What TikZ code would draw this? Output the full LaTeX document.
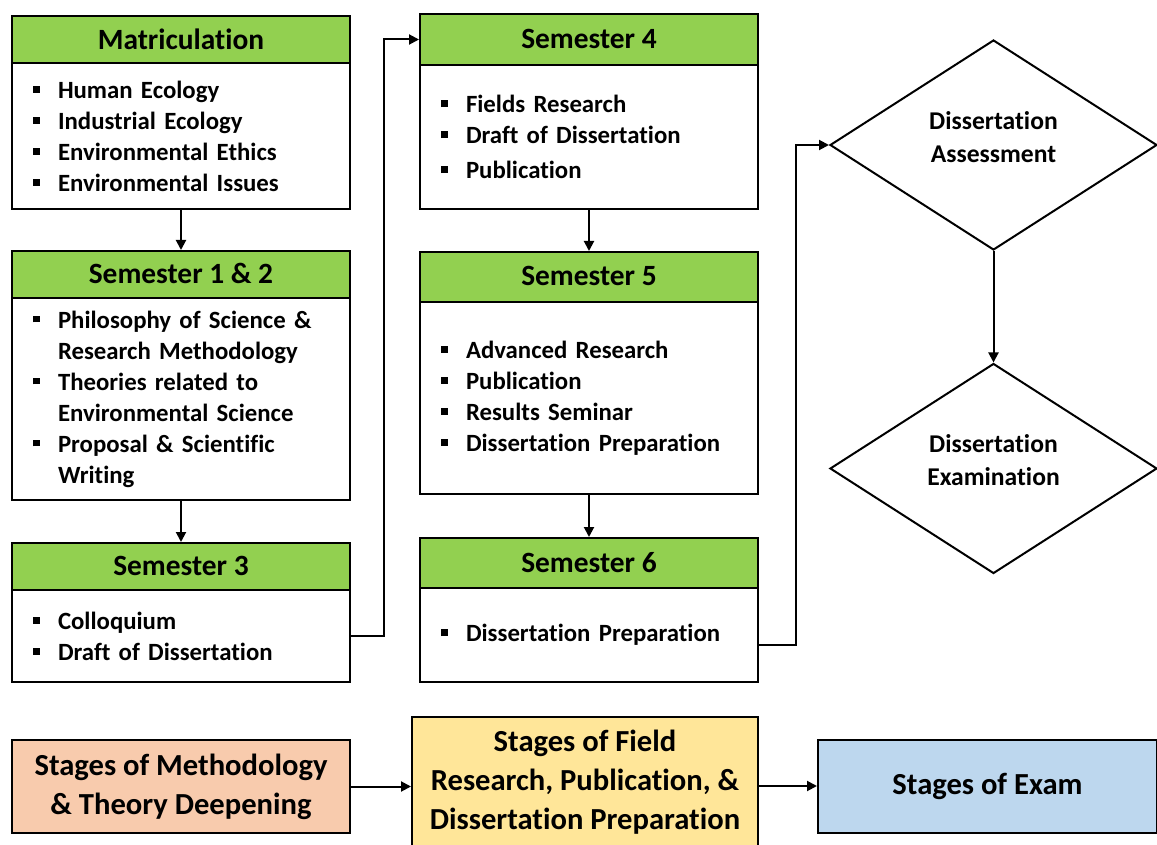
\documentclass[tikz,border=0pt]{standalone}
\usepackage{fontspec}
\setmainfont{Carlito}[Ligatures=NoCommon,Contextuals=NoAlternate]
\usetikzlibrary{shapes.geometric,arrows.meta}
\definecolor{hdrgreen}{HTML}{92D050}
\definecolor{stagepeach}{HTML}{F8CBAD}
\definecolor{stageyellow}{HTML}{FFE699}
\definecolor{stageblue}{HTML}{BDD7EE}
\newcommand{\sqb}{\makebox[12.5pt][l]{\raisebox{2.8pt}{\rule{3.4pt}{3.4pt}}}}
\newcommand{\cnt}{\hspace*{12.5pt}}
\tikzset{
  hdr/.style={draw, line width=1pt, fill=hdrgreen, minimum width=169pt, minimum height=23.5pt, inner sep=0pt, text depth=1pt, font=\bfseries\fontsize{14.7}{17}\selectfont},
  lst/.style={draw, line width=1pt, fill=white, minimum width=169pt, text width=148pt, align=left, inner sep=0pt, font=\bfseries\fontsize{12.4}{15.5}\selectfont},
  stage/.style={draw, line width=1pt, minimum height=46.5pt, align=center, inner sep=0pt, font=\bfseries\fontsize{15.3}{19.5}\selectfont},
  decision/.style={diamond, draw, line width=1pt, aspect=1.56, minimum width=163.5pt, minimum height=105pt, inner sep=0pt, align=center, text depth=8pt, font=\bfseries\fontsize{12.8}{16.5}\selectfont},
  arr/.style={-{Triangle[length=5pt,width=5pt]}, line width=1pt}
}
\begin{document}
\begin{tikzpicture}[x=0.5pt,y=-0.5pt]
\useasboundingbox (0,0) rectangle (1157,845);
% left column
\node[hdr] (matric) at (181,40) {Matriculation};
\node[lst, minimum height=73pt] (matric-list) at (181,136)
  {\sqb Human Ecology\\ \sqb Industrial Ecology\\ \sqb Environmental Ethics\\ \sqb Environmental Issues};
\node[hdr] (sem12) at (181,274.5) {Semester 1 \& 2};
\node[lst, minimum height=101pt] (sem12-list) at (181,399)
  {\sqb Philosophy of Science \&\\ \cnt Research Methodology\\ \sqb Theories related to\\ \cnt Environmental Science\\ \sqb Proposal \& Scientific\\ \cnt Writing};
\node[hdr] (sem3) at (181,566.5) {Semester 3};
\node[lst, minimum height=46pt] (sem3-list) at (181,636)
  {\sqb Colloquium\\ \sqb Draft of Dissertation};
% middle column
\node[hdr, minimum height=25.5pt] (sem4) at (589,39.5) {Semester 4};
\node[lst, minimum height=72pt] (sem4-list) at (589,137)
  {\sqb Fields Research\\ \sqb Draft of Dissertation\\[2pt] \sqb Publication};
\node[hdr, minimum height=25pt] (sem5) at (589,277) {Semester 5};
\node[lst, minimum height=96pt] (sem5-list) at (589,398)
  {\sqb Advanced Research\\ \sqb Publication\\ \sqb Results Seminar\\ \sqb Dissertation Preparation};
\node[hdr, minimum height=25pt] (sem6) at (589,563) {Semester 6};
\node[lst, minimum height=47pt] (sem6-list) at (589,635)
  {\sqb Dissertation Preparation};
% exam stages
\node[decision] (assess) at (993.5,145) {Dissertation\\Assessment};
\node[decision] (exam) at (993.5,468.5) {Dissertation\\Examination};
% legend row
\node[stage, fill=stagepeach, minimum width=169pt] (methstage) at (181,786.5)
  {Stages of Methodology\\\& Theory Deepening};
\node[stage, fill=stageyellow, minimum width=173pt, minimum height=65.5pt] (fieldstage) at (585,782)
  {Stages of Field\\Research, Publication, \&\\Dissertation Preparation};
\node[stage, fill=stageblue, minimum width=169.5pt] (examstage) at (987.5,786.5)
  {Stages of Exam};
% connectors
\draw[arr] (matric-list.south) -- (sem12.north);
\draw[arr] (sem12-list.south) -- (sem3.north);
\draw[arr] (sem3-list.east) -- ++(33,0) |- (sem4.west);
\draw[arr] (sem4-list.south) -- (sem5.north);
\draw[arr] (sem5-list.south) -- (sem6.north);
\draw[arr] ([yshift=-5pt]sem6-list.east) -- ++(37,0) |- (assess.west);
\draw[arr] (assess.south) -- (exam.north);
\draw[arr] (methstage.east) -- (methstage.east -| fieldstage.west);
\draw[arr] ([yshift=-2pt]fieldstage.east) -- ([yshift=-2pt]fieldstage.east -| examstage.west);
\end{tikzpicture}
\end{document}
